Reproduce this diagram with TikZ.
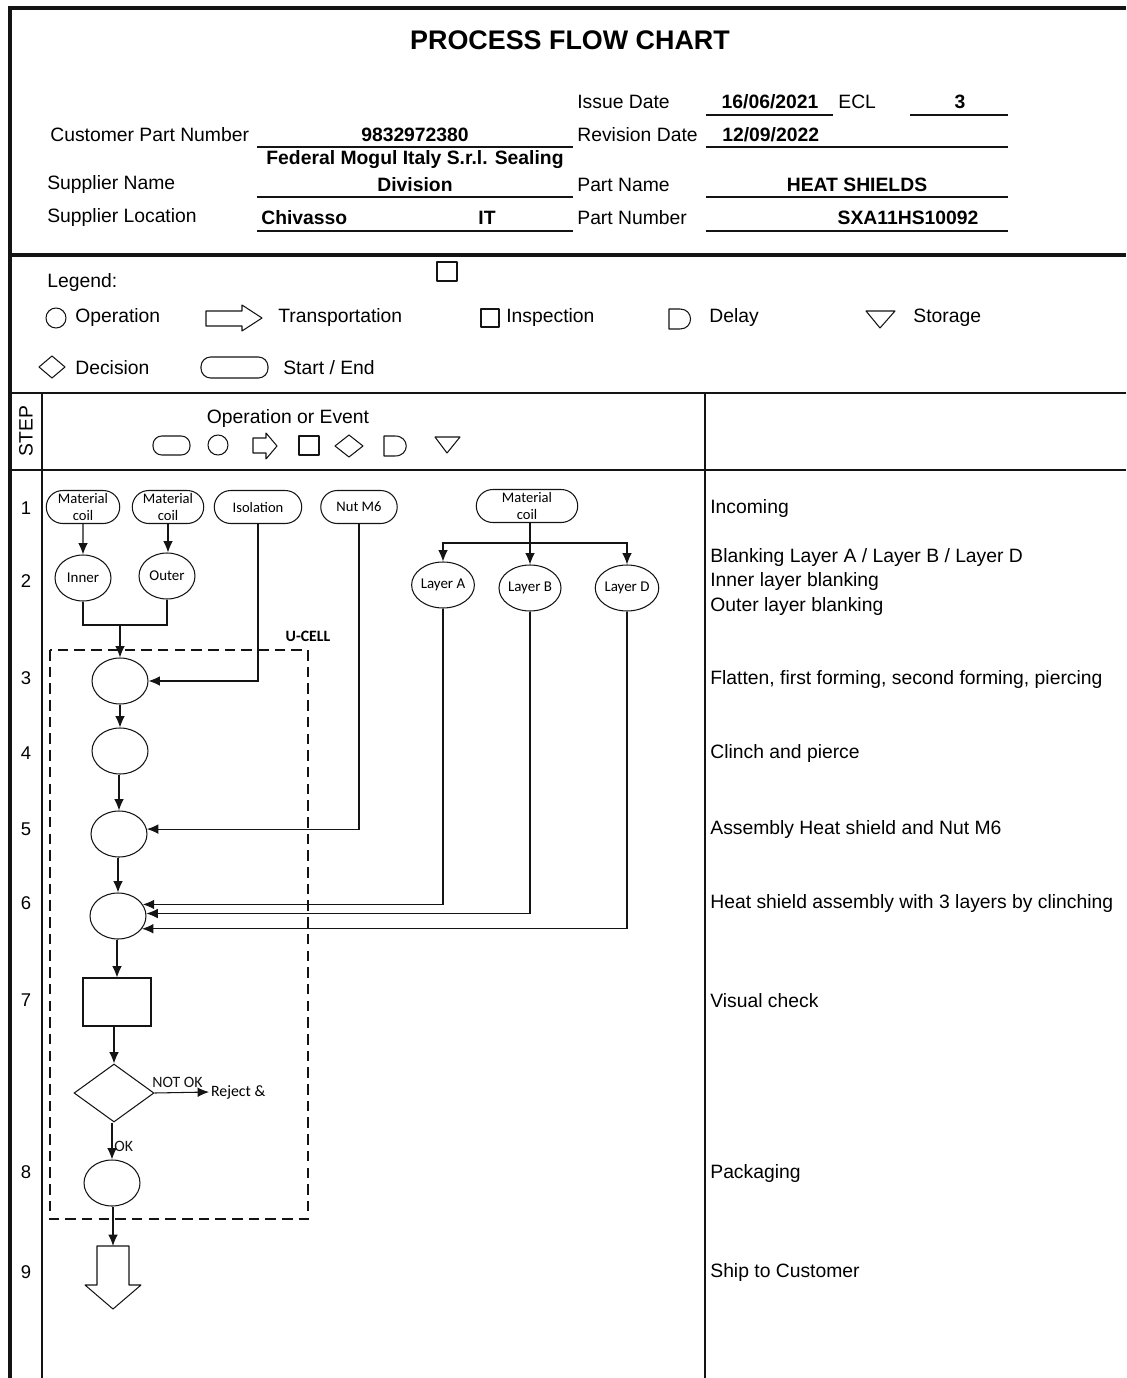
\documentclass[tikz,border=0pt]{standalone}
\usepackage{fontspec}
\setmainfont{Liberation Sans}
\newfontfamily\flowfont{Carlito}
\usepackage{tikz}
\usetikzlibrary{arrows.meta,positioning,shapes.geometric,shapes.misc}
\definecolor{inkblack}{HTML}{141414}
\tikzset{
  frameline/.style={inkblack, line width=2.1pt},
  gridline/.style={inkblack, line width=1.3pt},
  fieldline/.style={inkblack, line width=1.4pt},
  plainline/.style={inkblack, line width=0.6pt},
  flowline/.style={inkblack, line width=0.6pt, -{Latex[length=6.5pt,width=5.5pt]}},
  symline/.style={inkblack, line width=0.6pt, line join=round},
  cellbox/.style={inkblack, line width=1.5pt, dash pattern=on 6pt off 3.5pt},
  opnode/.style={ellipse, draw=inkblack, line width=0.6pt, minimum width=1.12cm, minimum height=0.92cm, inner sep=0pt, font=\flowfont\fontsize{8.5}{9}\selectfont},
  startnode/.style={rounded rectangle, draw=inkblack, line width=0.6pt, minimum height=0.66cm, inner sep=1pt, align=center, font=\flowfont\fontsize{8.3}{9.6}\selectfont},
  inspnode/.style={rectangle, draw=inkblack, line width=0.6pt, minimum width=1.36cm, minimum height=0.96cm},
  decnode/.style={diamond, draw=inkblack, line width=0.6pt, minimum width=1.6cm, minimum height=1.16cm, inner sep=0pt},
  titletext/.style={inner sep=0pt, font=\bfseries\fontsize{15.3}{18}\selectfont},
  labeltext/.style={anchor=west, inner sep=0pt, font=\fontsize{11}{13}\selectfont},
  valuetext/.style={inner sep=0pt, font=\bfseries\fontsize{11}{13}\selectfont},
  steptext/.style={inner sep=0pt, font=\fontsize{10.5}{12}\selectfont},
  smalltext/.style={inner sep=1pt, font=\flowfont\fontsize{9}{10}\selectfont}
}
\begin{document}
\begin{tikzpicture}[x=0.02cm, y=-0.02cm]
  \useasboundingbox (0,0) rectangle (1126,1378);
  % frame
  \draw[frameline] (10,1378) -- (10,8) -- (1126,8);
  \draw[frameline] (10,255) -- (1126,255);
  \draw[gridline] (10,393) -- (1126,393);
  \draw[gridline] (10,470) -- (1126,470);
  \draw[gridline] (42,393) -- (42,1378);
  \draw[gridline] (705,393) -- (705,1378);

  % header
  \node[titletext] (title) at (570,40) {PROCESS FLOW CHART};
  \node[labeltext] (issuelbl) at (577,102) {Issue Date};
  \node[valuetext] (issueval) at (770,102) {16/06/2021};
  \node[labeltext] (ecllbl) at (838,102) {ECL};
  \node[valuetext] (eclval) at (960,102) {3};
  \draw[fieldline] (706,115) -- (833,115);
  \draw[fieldline] (910,115) -- (1008,115);
  \node[labeltext] (cpnlbl) at (50,135) {Customer Part Number};
  \node[valuetext] (cpnval) at (415,135) {9832972380};
  \draw[fieldline] (257,147) -- (573,147);
  \node[labeltext] (revlbl) at (577,135) {Revision Date};
  \node[valuetext, anchor=west] (revval) at (722,135) {12/09/2022};
  \draw[fieldline] (706,147) -- (1008,147);
  \node[valuetext] (supval) at (415,160) {Federal Mogul Italy S.r.l. Sealing};
  \node[valuetext] (supdiv) at (415,185) {Division};
  \node[labeltext] (suplbl) at (47,185) {Supplier Name};
  \draw[fieldline] (257,197) -- (573,197);
  \node[labeltext] (pnamelbl) at (577,185) {Part Name};
  \node[valuetext] (pnameval) at (857,185) {HEAT SHIELDS};
  \draw[fieldline] (706,197) -- (1008,197);
  \node[labeltext] (loclbl) at (47,218) {Supplier Location};
  \node[valuetext, anchor=west] (locval) at (261,218) {Chivasso};
  \node[valuetext] (ctryval) at (487,218) {IT};
  \draw[fieldline] (257,231) -- (573,231);
  \node[labeltext] (pnumlbl) at (577,218) {Part Number};
  \node[valuetext] (pnumval) at (908,218) {SXA11HS10092};
  \draw[fieldline] (706,231) -- (1008,231);

  % legend
  \node[labeltext] (legend) at (47,283) {Legend:};
  \draw[symline] (437,262) rectangle (457,281);
  \draw[symline] (56,318) circle (0.2cm);
  \node[labeltext] (lgop) at (75,318) {Operation};
  \draw[symline] (206,311) -- (242,311) -- (242,305) -- (262,318) -- (242,331) -- (242,326) -- (206,326) -- cycle;
  \node[labeltext] (lgtr) at (278,318) {Transportation};
  \draw[symline] (481,309) rectangle (499,327);
  \node[labeltext] (lgin) at (506,318) {Inspection};
  \draw[symline] (669,309) -- (680,309) .. controls (694,309) and (694,329) .. (680,329) -- (669,329) -- cycle;
  \node[labeltext] (lgde) at (709,318) {Delay};
  \draw[symline] (866,311) -- (895,311) -- (880,328) -- cycle;
  \node[labeltext] (lgst) at (913,318) {Storage};
  \draw[symline] (39,367) -- (52,356) -- (65,367) -- (52,378) -- cycle;
  \node[labeltext] (lgdc) at (75,368) {Decision};
  \draw[symline, rounded corners=5.5pt] (201,357) rectangle (268,378);
  \node[labeltext] (lgse) at (283,368) {Start / End};

  % column heads
  \node[steptext, rotate=90, font=\fontsize{11}{13}\selectfont] (stephead) at (26,431) {STEP};
  \node[labeltext, anchor=center] (evhead) at (288,419) {Operation or Event};
  \draw[symline, rounded corners=5pt] (153,436) rectangle (190,455);
  \draw[symline] (218,445) circle (0.2cm);
  \draw[symline] (253,438) -- (266,438) -- (266,433) -- (277,446) -- (266,459) -- (266,453) -- (253,453) -- cycle;
  \draw[symline] (299,436) rectangle (319,455);
  \draw[symline] (335,446) -- (349,435) -- (363,446) -- (349,457) -- cycle;
  \draw[symline] (384,436) -- (395,436) .. controls (410,436) and (410,456) .. (395,456) -- (384,456) -- cycle;
  \draw[symline] (435,437) -- (460,437) -- (447,453) -- cycle;

  % steps and descriptions
  \foreach \n/\y in {1/508,2/581,3/678,4/753,5/829,6/903,7/1000,8/1172,9/1272}{
    \node[steptext] (step\n) at (26,\y) {\n};
  }
  \node[labeltext] (d1) at (710,509) {Incoming};
  \node[labeltext] (d2a) at (710,557) {Blanking Layer A / Layer B / Layer D};
  \node[labeltext] (d2b) at (710,581) {Inner layer blanking};
  \node[labeltext] (d2c) at (710,606) {Outer layer blanking};
  \node[labeltext] (d3) at (710,679) {Flatten, first forming, second forming, piercing};
  \node[labeltext] (d4) at (710,753) {Clinch and pierce};
  \node[labeltext] (d5) at (710,829) {Assembly Heat shield and Nut M6};
  \node[labeltext] (d6) at (710,903) {Heat shield assembly with 3 layers by clinching};
  \node[labeltext] (d7) at (710,1001) {Visual check};
  \node[labeltext] (d8) at (710,1173) {Packaging};
  \node[labeltext] (d9) at (710,1272) {Ship to Customer};

  % flow
  \draw[cellbox] (50,650) rectangle (308,1219);
  \node[inner sep=0pt, font=\flowfont\bfseries\fontsize{9}{10}\selectfont] (ucell) at (308,636) {U-CELL};

  \node[startnode, minimum width=1.54cm] (coilin) at (83,507) {Material\\coil};
  \node[startnode, minimum width=1.50cm] (coilout) at (168,507) {Material\\coil};
  \node[startnode, minimum width=1.82cm] (isol) at (258,507) {Isolation};
  \node[startnode, minimum width=1.60cm] (nut) at (359,507) {Nut M6};
  \node[startnode, minimum width=2.10cm] (coillay) at (527,506) {Material\\coil};
  \node[opnode] (inner) at (83,578) {Inner};
  \node[opnode] (outer) at (167,576) {Outer};
  \node[opnode] (layA) at (443,585) {Layer A};
  \node[opnode] (layB) at (530,588) {Layer B};
  \node[opnode] (layD) at (627,588) {Layer D};
  \node[opnode] (op3) at (120,681) {};
  \node[opnode] (op4) at (120,751) {};
  \node[opnode] (op5) at (119,834) {};
  \node[opnode] (op6) at (118,916) {};
  \node[inspnode] (chk) at (117,1002) {};
  \node[decnode] (dec) at (114,1093) {};
  \node[opnode] (op8) at (112,1183) {};
  \node[smalltext, anchor=west] (rej) at (209,1092) {Reject \&};
  \coordinate (merge) at (120,625);
  \coordinate (split) at (530,543);
  \coordinate (shiptop) at (113,1246);

  \draw[flowline] (coilin) -- (inner);
  \draw[flowline] (coilout.south) -- (coilout.south |- outer.north);
  \draw[plainline] (inner.south) |- (merge) -| (outer.south);
  \draw[flowline] (merge) -- (op3.north);
  \draw[flowline] (isol.south) |- (op3.east);
  \draw[flowline] (op3) -- (op4);
  \draw[flowline] (op4.south -| op5.north) -- (op5.north);
  \draw[flowline] (nut.south) |- (op5.10);
  \draw[flowline] (op5.south -| op6.north) -- (op6.north);
  \draw[plainline] (coillay.south -| split) -- (split);
  \draw[flowline] (split) -| (layA.north);
  \draw[flowline] (split) -- (layB.north);
  \draw[flowline] (split) -| (layD.north);
  \draw[flowline] (layA.south) |- (op6.25);
  \draw[flowline] (layB.south) |- (op6.5);
  \draw[flowline] (layD.south) |- (op6.-28);
  \draw[flowline] (op6.south -| chk.north) -- (chk.north);
  \draw[flowline] (chk.south -| dec.north) -- (dec.north);
  \draw[flowline] (dec.east) -- (rej.west) node[smalltext, pos=0.42, above=1.5pt] {NOT OK};
  \draw[flowline] (dec.south -| op8.north) -- (op8.north) node[smalltext, pos=0.65, anchor=west] {OK};
  \draw[flowline] (op8.south -| shiptop) -- (shiptop);
  \draw[symline] (97,1246) -- (129,1246) -- (129,1285) -- (141,1285) -- (113,1309) -- (85,1285) -- (97,1285) -- cycle;
\end{tikzpicture}
\end{document}
